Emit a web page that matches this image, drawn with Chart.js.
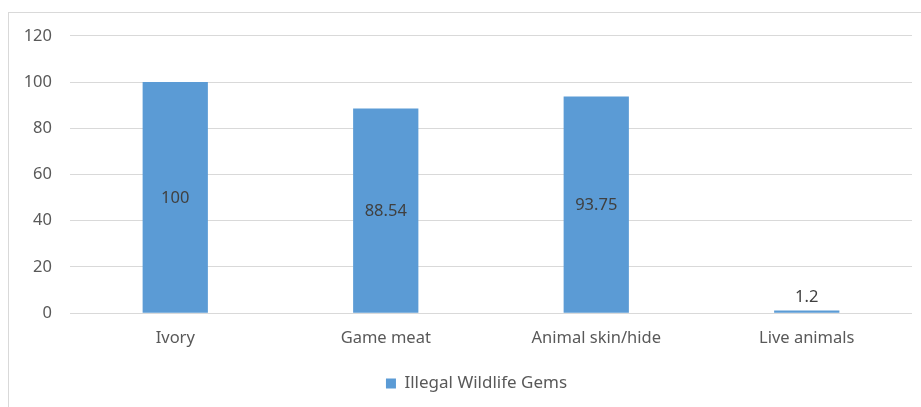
<!DOCTYPE html>
<html>
<head>
<meta charset="utf-8">
<script src="https://cdn.jsdelivr.net/npm/chart.js@4"></script>
<style>
  html, body { margin: 0; padding: 0; background: #fff; }
  #frame {
    position: absolute; left: 8px; top: 12px;
    width: 920px; height: 400px;
    border: 1px solid #d9d9d9; box-sizing: border-box;
  }
  #chart-box { position: absolute; left: 0; top: -5px; width: 912px; height: 394px; }
</style>
</head>
<body>
<div id="frame"><div id="chart-box"><canvas id="bar-chart"></canvas></div></div>
<script>
const categories = ['Ivory', 'Game meat', 'Animal skin/hide', 'Live animals'];
const gemValues = [100, 88.54, 93.75, 1.2];
const seriesName = 'Illegal Wildlife Gems';
const yTicks = [0, 20, 40, 60, 80, 100, 120];

const FONT = '"Noto Sans", "Liberation Sans", sans-serif';
const TEXT = '#595959';
const SIZE = 16.5;

// value labels: middle of the bar, or just above it when the bar is too short
const barValueLabels = {
    id: 'barValueLabels',
    afterDatasetsDraw(chart) {
        const ctx = chart.ctx;
        const meta = chart.getDatasetMeta(0);
        ctx.save();
        ctx.font = SIZE + 'px ' + FONT;
        ctx.fillStyle = '#404040';
        ctx.textAlign = 'center';
        ctx.textBaseline = 'middle';
        meta.data.forEach((bar, i) => {
            const h = bar.base - bar.y;
            const y = h > 24 ? bar.y + h / 2 + 1 : bar.y - 13;
            ctx.fillText(String(gemValues[i]), bar.x, y);
        });
        ctx.restore();
    }
};

// legend sits a little right of centre
const legendNudge = {
    id: 'legendNudge',
    afterLayout(chart) {
        chart.legend.left += 16;
        chart.legend.right += 16;
    }
};

new Chart(document.getElementById('bar-chart').getContext('2d'), {
    type: 'bar',
    data: {
        labels: categories,
        datasets: [{
            label: seriesName,
            data: gemValues,
            backgroundColor: '#5b9bd5',
            borderWidth: 0,
            barPercentage: 0.31,
            categoryPercentage: 1
        }]
    },
    options: {
        responsive: true,
        maintainAspectRatio: false,
        animation: false,
        layout: { padding: { top: 11, right: 9, bottom: 0 } },
        plugins: {
            legend: {
                position: 'bottom',
                labels: {
                    boxWidth: 10, boxHeight: 10,
                    color: TEXT,
                    font: { family: FONT, size: 17 },
                    padding: 20
                }
            },
            tooltip: { enabled: false }
        },
        scales: {
            x: {
                grid: { display: false },
                border: { display: false },
                ticks: { color: TEXT, font: { family: FONT, size: SIZE }, padding: 7 }
            },
            y: {
                min: 0, max: 120,
                afterBuildTicks(scale) { scale.ticks = yTicks.map(v => ({ value: v })); },
                afterFit(scale) { scale.width = 61; },
                grid: { color: '#d9d9d9', drawTicks: false },
                border: { display: false },
                ticks: { color: TEXT, font: { family: FONT, size: SIZE }, padding: 18 }
            }
        }
    },
    plugins: [barValueLabels, legendNudge]
});
</script>
</body>
</html>
